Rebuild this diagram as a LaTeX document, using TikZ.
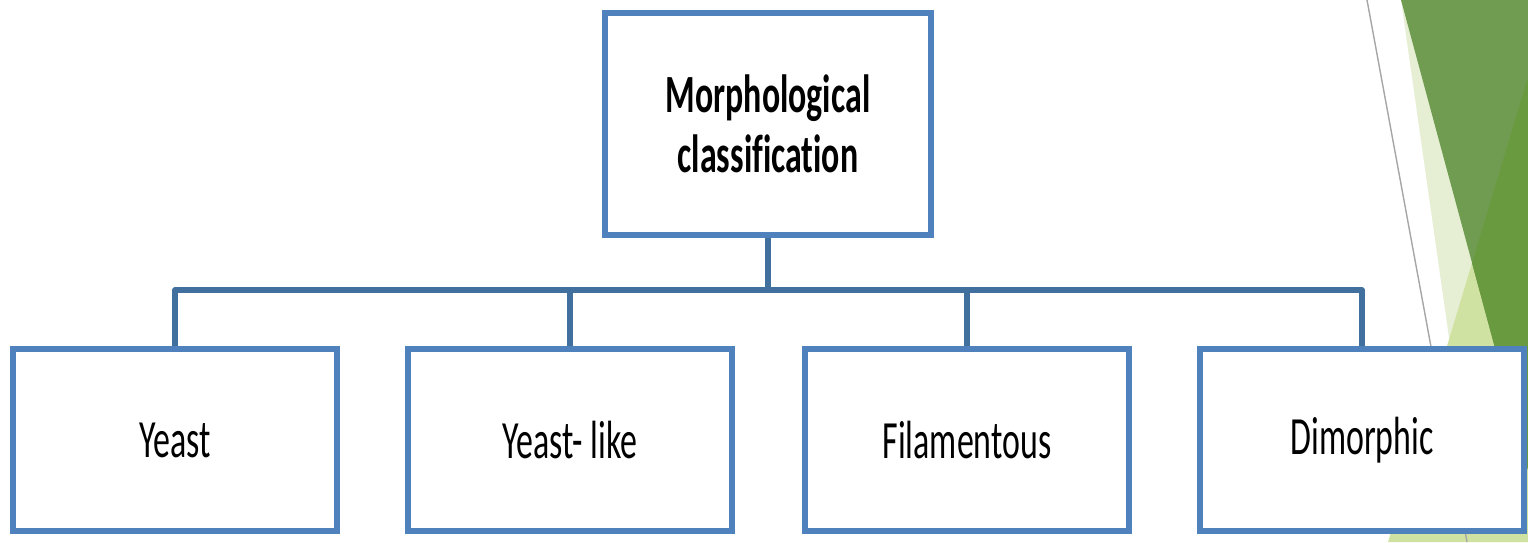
\documentclass[tikz,border=0pt]{standalone}
\usepackage{fontspec}
\usepackage{tikz}
\usetikzlibrary{positioning,calc}
\newfontfamily\boxfont[FakeStretch=0.63,Ligatures=NoCommon]{Carlito}
\definecolor{boxblue}{HTML}{4F81BD}
\definecolor{linkblue}{HTML}{41709E}
\definecolor{palegreen}{HTML}{E6EFD4}
\definecolor{lightgreen}{HTML}{D0E2A2}
\definecolor{midgreen}{HTML}{709C52}
\definecolor{darkgreen}{HTML}{6A9A3F}

\begin{document}
\begin{tikzpicture}[x=0.01cm,y=-0.01cm,
  classbox/.style={draw=boxblue,line width=1.7pt,fill=white,align=center,
    minimum width=3.24cm,minimum height=1.82cm,inner sep=0pt,
    font=\boxfont\fontsize{15.3}{17}\selectfont},
  link/.style={draw=linkblue,line width=1.6pt,line join=round}]
  \useasboundingbox (0,0) rectangle (1528,542);
 % background facets
  \fill[palegreen] (1401,0) -- (1528,0) -- (1528,542) -- (1478,542) -- cycle;
  \fill[lightgreen] (1528,77) -- (1388,542) -- (1528,542) -- cycle;
  \fill[midgreen] (1401,0) -- (1528,0) -- (1528,470) -- cycle;
  \fill[darkgreen] (1528,77) -- (1472,263) -- (1528,470) -- cycle;
  \draw[gray!70,line width=0.4pt] (1367,0) -- (1467,542);
 % boxes
  \node[classbox,minimum width=3.26cm,minimum height=2.22cm,font=\boxfont\bfseries\fontsize{15.3}{17}\selectfont]
    (morph) at (768,124) {Morphological\\classification};
  \node[classbox] (yeast) at (175,440) {Yeast};
  \node[classbox] (yeastlike) at (570,440) {Yeast- like};
  \node[classbox] (filament) at (967,440) {Filamentous};
  \node[classbox] (dimorph) at (1362,440) {Dimorphic};
 % tree lines
  \coordinate (bus) at (768,290);
  \draw[link] (morph.south) -- (bus);
  \draw[link] (yeast.north) -- (yeast.north |- bus) -- (dimorph.north |- bus) -- (dimorph.north);
  \draw[link] (yeastlike.north |- bus) -- (yeastlike.north);
  \draw[link] (filament.north |- bus) -- (filament.north);
\end{tikzpicture}
\end{document}
